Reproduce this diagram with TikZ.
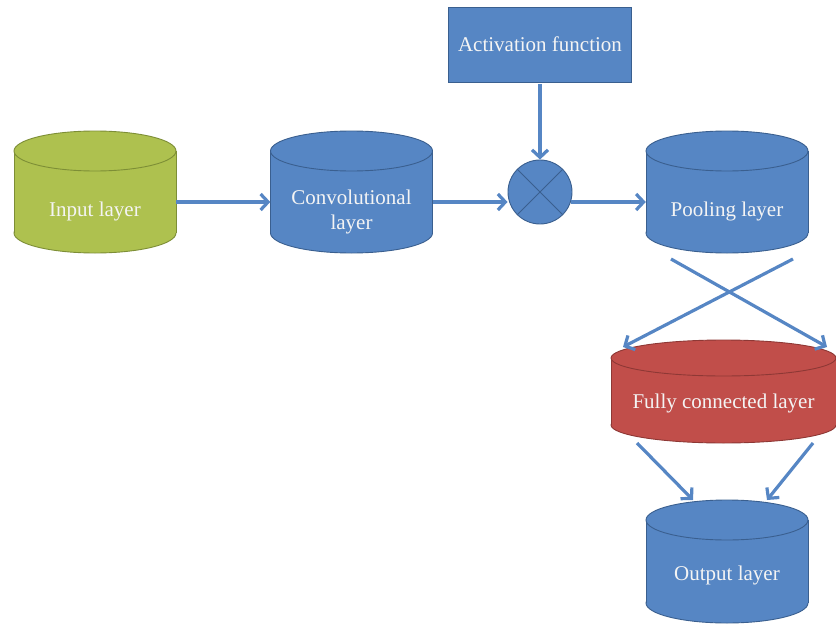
\documentclass[tikz,border=0pt]{standalone}
\usepackage{fontspec}
\setmainfont{Liberation Serif}
\usetikzlibrary{arrows.meta,calc}
\definecolor{bfill}{HTML}{5686C4}
\definecolor{bline}{HTML}{3A5F8F}
\definecolor{gfill}{HTML}{AEC14F}
\definecolor{gline}{HTML}{7D8E36}
\definecolor{rfill}{HTML}{C14E4A}
\definecolor{rline}{HTML}{8E3835}
\definecolor{arrc}{HTML}{5686C4}
\definecolor{txt}{HTML}{F4F4F4}
\newcommand{\cylshape}[7]{%
  \filldraw[fill=#6,draw=#7,line width=0.9pt] (#1,#3) ellipse [x radius=#4,y radius=#5];
  \fill[#6] (#1-#4,#2) rectangle (#1+#4,#3);
  \draw[#7,line width=0.9pt] (#1-#4,#2) -- (#1-#4,#3) (#1+#4,#2) -- (#1+#4,#3);
  \filldraw[fill=#6,draw=#7,line width=0.9pt] (#1,#2) ellipse [x radius=#4,y radius=#5];
}
\tikzset{
  cylbox/.style={inner sep=0pt,minimum width=162pt,minimum height=122pt},
  lbl/.style={text=txt,font=\fontsize{21}{25.5}\selectfont,align=center,inner sep=0pt},
  arr/.style={draw=arrc,line width=3.2pt,-{Straight Barb[length=7.5pt,width=16pt]}},
}
\begin{document}
\begin{tikzpicture}[x=1pt,y=-1pt]
\useasboundingbox (0,0) rectangle (836,624);
% cylinders
\cylshape{95}{151}{233}{81}{20}{gfill}{gline}
\cylshape{351.5}{151}{233}{81}{20}{bfill}{bline}
\cylshape{727}{151}{233}{81}{20}{bfill}{bline}
\cylshape{723.5}{358}{425}{112.5}{18}{rfill}{rline}
\cylshape{727}{520}{603}{81}{20}{bfill}{bline}
\node[cylbox] (inp) at (95,192) {};
\node[cylbox] (conv) at (351.5,192) {};
\node[cylbox] (pool) at (727,192) {};
\node[cylbox,minimum width=225pt,minimum height=103pt] (fc) at (723.5,391.5) {};
\node[cylbox,minimum height=123pt] (out) at (727,561.5) {};
\node[lbl] (inpT) at (95,211) {Input layer};
\node[lbl] (convT) at (351.5,212) {Convolutional\\layer};
\node[lbl] (poolT) at (727,211) {Pooling layer};
\node[lbl] (fcT) at (723.5,403) {Fully connected layer};
\node[lbl] (outT) at (727,575) {Output layer};
% activation box and multiplier
\node[draw=bline,fill=bfill,line width=0.9pt,minimum width=183pt,minimum height=75pt,inner sep=0pt,text=txt,font=\fontsize{21}{25.5}\selectfont] (act) at (540,44.5) {Activation function};
\node[circle,draw=bline,fill=bfill,line width=0.9pt,minimum size=64pt,inner sep=0pt] (mult) at (540,192) {};
\draw[bline,line width=0.9pt] (mult.north west) -- (mult.south east) (mult.north east) -- (mult.south west);
% connectors
\draw[arr] ([yshift=-10pt]inp.east) -- ([yshift=-10pt]conv.west);
\draw[arr] ([yshift=-10pt]conv.east) -- ([yshift=-10pt]conv.east -| mult.west);
\draw[arr] ([yshift=-10pt,xshift=-1pt]conv.east -| mult.east) -- ([yshift=-10pt]pool.west);
\draw[arr] ([yshift=-2pt]act.south) -- (mult.north);
\coordinate (pa) at (671,259);
\coordinate (pb) at (793,259);
\coordinate (fa) at (827,347);
\coordinate (fb) at (623,347);
\coordinate (oa) at (637,443);
\coordinate (ob) at (813,443);
\coordinate (ia) at (693,500);
\coordinate (ib) at (767,500);
\draw[arr] (pa) -- (fa);
\draw[arr] (pb) -- (fb);
\draw[arr] (oa) -- (ia);
\draw[arr] (ob) -- (ib);
\end{tikzpicture}
\end{document}
